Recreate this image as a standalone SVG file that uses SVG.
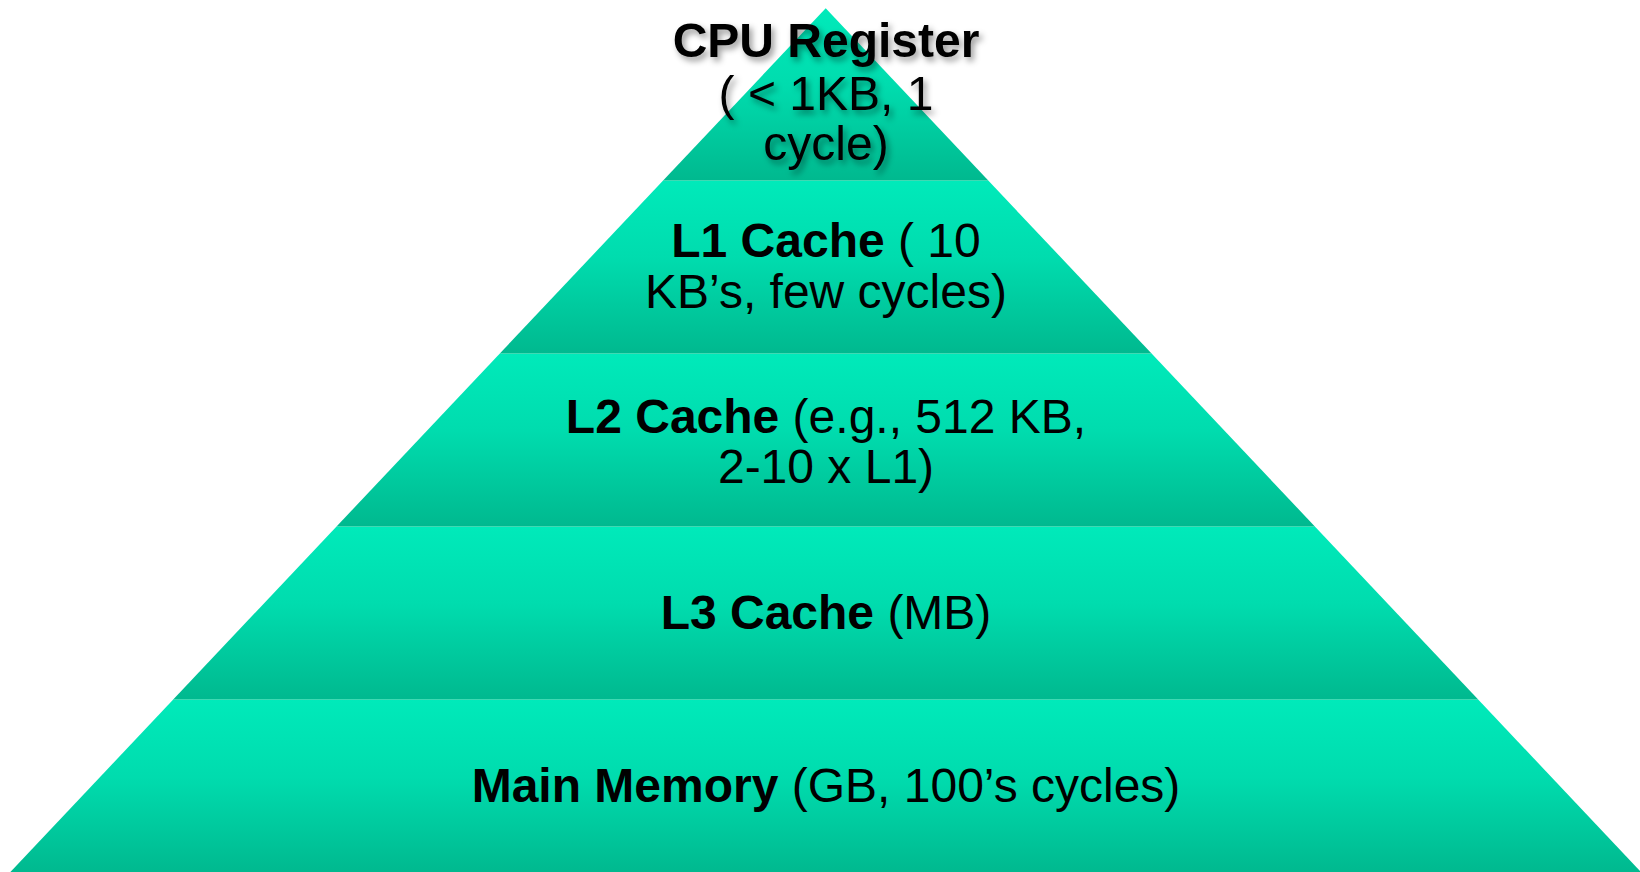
<svg xmlns="http://www.w3.org/2000/svg" width="1640" height="872" viewBox="0 0 1640 872">
<defs>
<linearGradient id="band" x1="0" y1="0" x2="0" y2="1">
<stop offset="0" stop-color="#00EABA"/>
<stop offset="0.45" stop-color="#00DCAE"/>
<stop offset="1" stop-color="#00B98F"/>
</linearGradient>
<filter id="shadow" x="-10%" y="-30%" width="120%" height="170%">
<feDropShadow dx="3" dy="4" stdDeviation="3" flood-color="#000" flood-opacity="0.4"/>
</filter>
</defs>
<style>
.band{fill:url(#band);}
.sep{stroke:#3FD9B3;stroke-width:1.2;}
text{font-family:"Liberation Sans",Arial,sans-serif;fill:#000;font-size:48px;text-anchor:middle;}
.b{font-weight:bold;}
</style>
<g id="cpu-register">
<polygon class="band" points="825.7,8.3 987.8,180 663.6,180"/>
<g filter="url(#shadow)">
<text class="b" x="826" y="57">CPU Register</text>
<text x="826" y="110">( &lt; 1KB, 1</text>
<text x="826" y="160">cycle)</text>
</g>
</g>
<g id="l1-cache">
<polygon class="band" points="663.6,180 987.8,180 1151.1,353 500.3,353"/>
<text x="826" y="257"><tspan class="b">L1 Cache</tspan> ( 10</text>
<text x="826" y="308">KB’s, few cycles)</text>
</g>
<g id="l2-cache">
<polygon class="band" points="500.3,353 1151.1,353 1314.4,526 337,526"/>
<text x="826" y="433"><tspan class="b">L2 Cache</tspan> (e.g., 512 KB,</text>
<text x="826" y="483">2-10 x L1)</text>
</g>
<g id="l3-cache">
<polygon class="band" points="337,526 1314.4,526 1477.7,699 173.7,699"/>
<text x="826" y="629"><tspan class="b">L3 Cache</tspan> (MB)</text>
</g>
<g id="main-memory">
<polygon class="band" points="173.7,699 1477.7,699 1641,872 10.4,872"/>
<text x="826" y="802"><tspan class="b">Main Memory</tspan> (GB, 100’s cycles)</text>
</g>
<g id="connectors">
<line class="sep" x1="663.6" y1="180.5" x2="987.8" y2="180.5"/>
<line class="sep" x1="500.3" y1="353.5" x2="1151.1" y2="353.5"/>
<line class="sep" x1="337" y1="526.5" x2="1314.4" y2="526.5"/>
<line class="sep" x1="173.7" y1="699.5" x2="1477.7" y2="699.5"/>
</g>
</svg>
